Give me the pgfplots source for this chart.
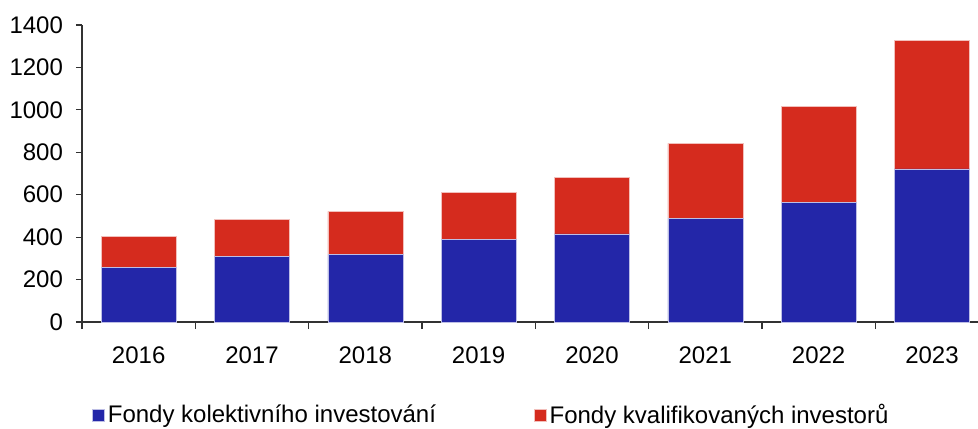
\documentclass[border=0pt]{standalone}
\usepackage{fontspec}
\setmainfont{Liberation Sans}
\usepackage{pgfplots}
\pgfplotsset{compat=1.18}
\usetikzlibrary{calc}
\definecolor{fkiblue}{RGB}{35,38,168}
\definecolor{fkvred}{RGB}{213,43,30}
\definecolor{axgray}{RGB}{50,50,50}

\begin{document}
\begin{tikzpicture}
\begin{axis}[
  name=ax,
  scale only axis,
  width=448pt, height=148.5pt,
  ybar stacked,
  bar width=0.662,
  xmin=-0.5, xmax=7.406,
  ymin=0, ymax=1400,
  ytick={0,200,...,1400},
  xtick={0,...,7},
  xticklabels={2016,2017,2018,2019,2020,2021,2022,2023},
  minor xtick={-0.5,0.5,...,6.5},
  major x tick style={draw=none},
  tick align=outside,
  major tick length=3pt,
  minor tick length=3.5pt,
  tick style={axgray, line width=0.6pt},
  axis x line*=bottom,
  axis y line*=left,
  axis line style={-, axgray, line width=0.6pt},
  /pgf/number format/assume math mode=true,
  /pgf/number format/1000 sep={},
  tick label style={font=\fontsize{12}{14}\selectfont},
  xticklabel style={yshift=-6pt},
  yticklabel style={xshift=-3pt},
  legend columns=2,
  legend style={
    at={(rel axis cs:0.011,-0.315)}, anchor=west,
    draw=none, fill=none, inner sep=0pt,
    font=\fontsize{12}{14}\selectfont,
    nodes={inner sep=1.5pt},
    /tikz/every even column/.append style={column sep=47.5pt},
  },
  area legend,
  legend image code/.code={\fill[#1] (0pt,-3pt) rectangle (6pt,3pt);},
]
\addplot[fill=fkiblue, draw=white!70!fkiblue, line width=0.3pt]
  coordinates {(0,257)(1,311)(2,318)(3,390)(4,415)(5,488)(6,563)(7,722)};
\addlegendentry{Fondy kolektivního investování}
\addplot[fill=fkvred, draw=white!70!fkvred, line width=0.3pt]
  coordinates {(0,146)(1,172)(2,204)(3,222)(4,265)(5,354)(6,455)(7,607)};
\addlegendentry{Fondy kvalifikovaných investorů}
\end{axis}
\pgfresetboundingbox
\path ($(ax.south west)+(-41pt,-53pt)$) rectangle ($(ax.north east)+(0pt,12.5pt)$);
\end{tikzpicture}
\end{document}
